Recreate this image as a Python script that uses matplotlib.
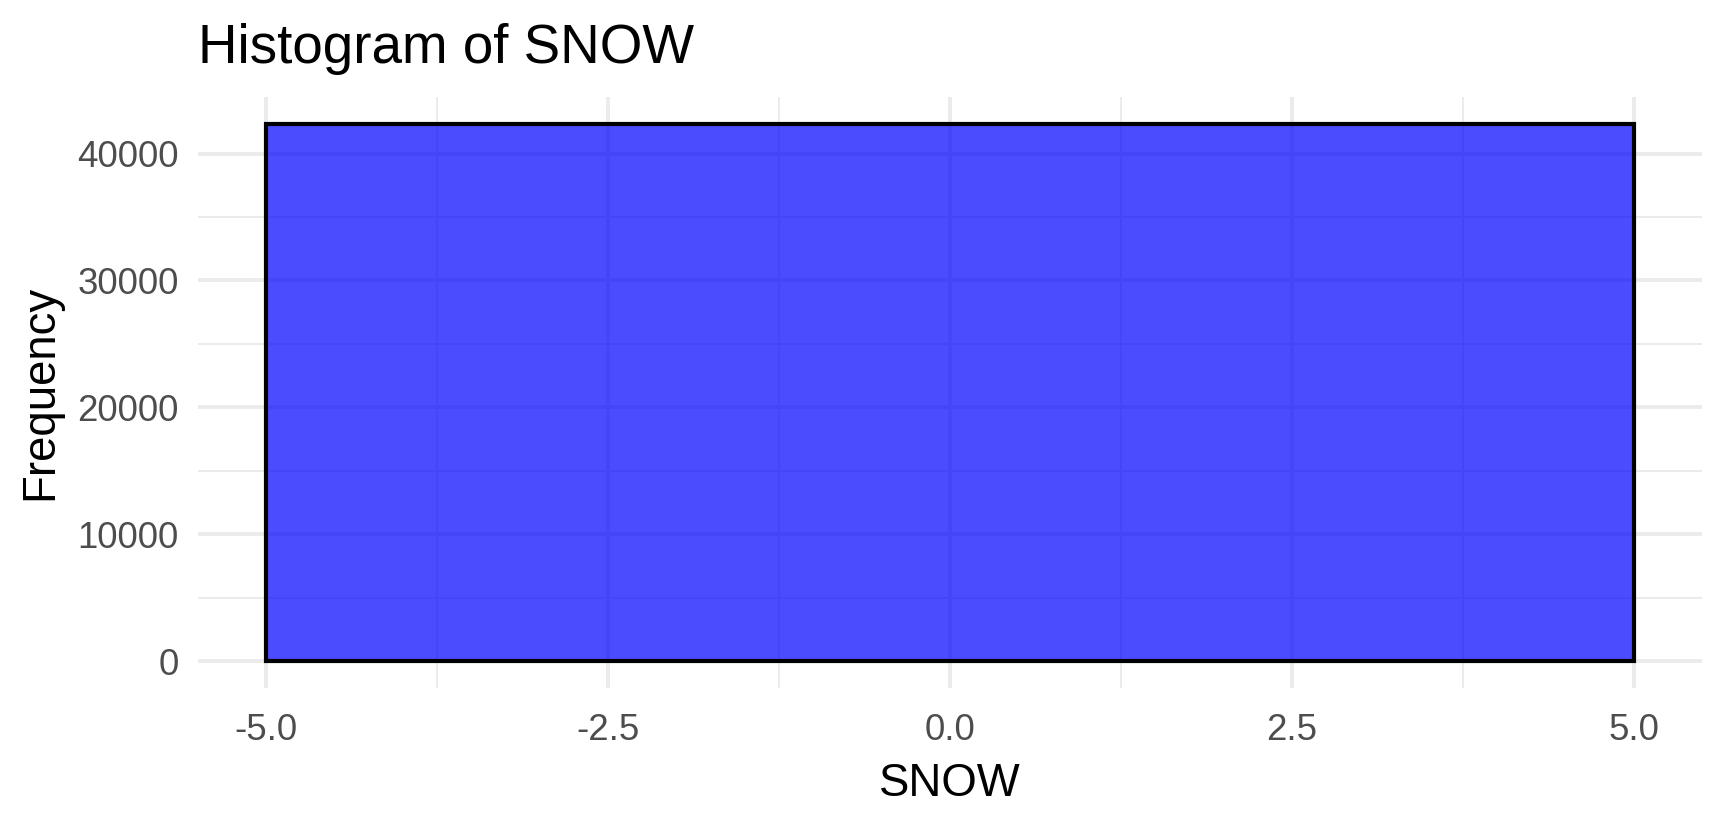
import matplotlib.pyplot as plt
from matplotlib.ticker import MultipleLocator

# histogram data: a single bin covering the whole range
bin_edges = [-5.0, 5.0]
counts = [42340]
x_ticks = [-5.0, -2.5, 0.0, 2.5, 5.0]
y_ticks = [0, 10000, 20000, 30000, 40000]

plt.rcParams['font.family'] = ['Liberation Sans', 'DejaVu Sans']

fig = plt.figure(figsize=(8.625, 4.085), dpi=200)
ax = fig.add_axes([198 / 1725, 1 - 688 / 817, (1702 - 198) / 1725, (688 - 97) / 817])

lefts = bin_edges[:-1]
widths = [b - a for a, b in zip(bin_edges[:-1], bin_edges[1:])]
ax.bar(lefts, counts, width=widths, align='edge', color='blue', alpha=0.7,
       edgecolor='none', zorder=2)
ax.bar(lefts, counts, width=widths, align='edge', facecolor='none',
       edgecolor='black', linewidth=1.5, zorder=3)

xmin, xmax = bin_edges[0], bin_edges[-1]
xr = xmax - xmin
ax.set_xlim(xmin - 0.05 * xr, xmax + 0.05 * xr)
ymax = max(counts)
ax.set_ylim(-0.05 * ymax, 1.05 * ymax)

ax.set_xticks(x_ticks)
ax.set_xticklabels([f'{t:.1f}' for t in x_ticks])
ax.set_yticks(y_ticks)
ax.set_yticklabels([str(t) for t in y_ticks])
ax.xaxis.set_minor_locator(MultipleLocator(1.25))
ax.yaxis.set_minor_locator(MultipleLocator(5000))

ax.set_axisbelow(True)
ax.grid(which='major', color='#EBEBEB', linewidth=1.4, zorder=0)
ax.grid(which='minor', color='#EBEBEB', linewidth=0.7, zorder=0)
for s in ax.spines.values():
    s.set_visible(False)
ax.tick_params(which='both', length=0)
ax.tick_params(axis='both', labelsize=13.2, colors='#4D4D4D')
ax.tick_params(axis='y', pad=7)
ax.tick_params(axis='x', pad=9)

ax.set_xlabel('SNOW', fontsize=16.4, color='black', labelpad=5)
ax.set_ylabel('Frequency', fontsize=16.4, color='black', labelpad=5.5)

fig.text(198 / 1725, 1 - 63 / 817, 'Histogram of SNOW', fontsize=19.7,
         ha='left', va='baseline', color='black')

fig.savefig('out.png', dpi=200, facecolor='white')
